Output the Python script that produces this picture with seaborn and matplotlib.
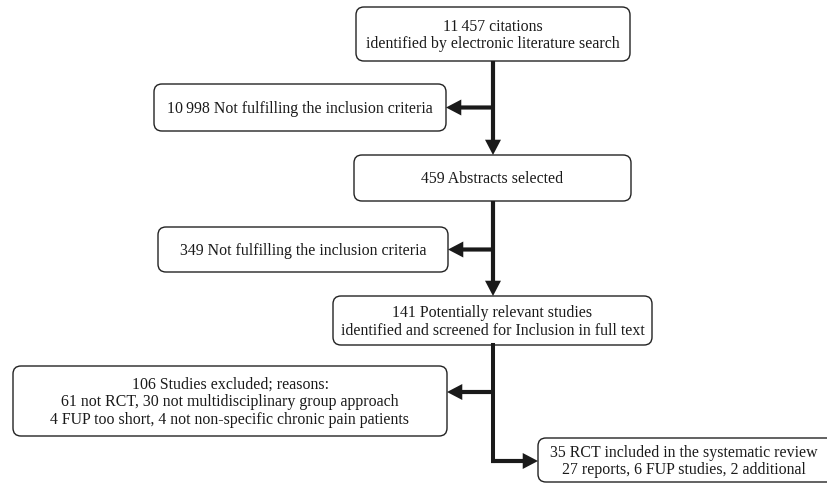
import matplotlib
matplotlib.use("Agg")
import matplotlib.pyplot as plt
import seaborn as sns
from matplotlib.patches import FancyBboxPatch

sns.set_style("white")
plt.rcParams['font.family'] = ['Liberation Serif', 'DejaVu Serif']

# counts at each stage of the review
main_counts = [11457, 459, 141, 35]
excluded_counts = [10998, 349, 106]
rct_reports = 27
rct_fup = 6
rct_additional = 2
excl_not_rct = 61
excl_not_group = 30
excl_fup_short = 4
excl_not_nonspecific = 4


def num(n):
    # thin space as thousands separator, like the original
    return f"{n:,}".replace(",", "\u2009")


main_text = [
    f"{num(main_counts[0])} citations\nidentified by electronic literature search",
    f"{num(main_counts[1])} Abstracts selected",
    f"{num(main_counts[2])} Potentially relevant studies\nidentified and screened for Inclusion in full text",
    f"{main_counts[3]} RCT included in the systematic review\n"
    f"{rct_reports} reports, {rct_fup} FUP studies, {rct_additional} additional",
]
excluded_text = [
    f"{num(excluded_counts[0])} Not fulfilling the inclusion criteria",
    f"{num(excluded_counts[1])} Not fulfilling the inclusion criteria",
    f"{excluded_counts[2]} Studies excluded; reasons:\n"
    f"{excl_not_rct} not RCT, {excl_not_group} not multidisciplinary group approach\n"
    f"{excl_fup_short} FUP too short, {excl_not_nonspecific} not non-specific chronic pain patients",
]

# layout in pixels (x0, y0, x1, y1), y grows downwards
main_boxes = [(356, 8, 630, 62), (354, 156, 631, 202), (333, 297, 652, 346), (538, 439, 845, 483)]
excl_boxes = [(154, 85, 446, 132), (158, 228, 448, 273), (13, 367, 447, 437)]
spine_x = 493

fig = plt.figure(figsize=(8.27, 4.85), dpi=100)
ax = fig.add_axes([0, 0, 1, 1])
ax.set_xlim(0, 827)
ax.set_ylim(485, 0)
ax.axis("off")


def box(b, text, tx=None):
    x0, y0, x1, y1 = b
    ax.add_patch(FancyBboxPatch((x0, y0), x1 - x0, y1 - y0,
                                boxstyle="round,pad=0,rounding_size=8",
                                fc="white", ec="#222222", lw=1.0, zorder=2))
    if tx is None:
        tx = (x0 + x1) / 2
    ax.text(tx, (y0 + y1) / 2 + 0.5, text, ha="center", va="center",
            fontsize=11.4, color="#1a1a1a", linespacing=1.12, zorder=3)


for b, t in zip(main_boxes[:3], main_text[:3]):
    box(b, t)
box(main_boxes[3], main_text[3], tx=684)
for b, t in zip(excl_boxes, excluded_text):
    box(b, t)

ink = "#1a1a1a"
arrow = dict(arrowstyle="simple,head_length=1.1,head_width=1.15,tail_width=0.3",
             lw=0, fc=ink, ec=ink, shrinkA=0, shrinkB=0, mutation_scale=10)


def arr(x0, y0, x1, y1):
    ax.annotate("", xy=(x1, y1), xytext=(x0, y0), arrowprops=arrow, zorder=4)


# main downward flow with side exits
for i in range(2):
    top = main_boxes[i][3]
    bottom = main_boxes[i + 1][1]
    arr(spine_x, top, spine_x, bottom)
    ey = (excl_boxes[i][1] + excl_boxes[i][3]) / 2
    arr(spine_x, ey, excl_boxes[i][2], ey)

# last step: exit to the left, then turn right into the final box
turn_y = (main_boxes[3][1] + main_boxes[3][3]) / 2 + 1
ax.plot([spine_x, spine_x], [main_boxes[2][3], turn_y], color=ink,
        lw=2.9, solid_capstyle="projecting", zorder=4)
ey = (excl_boxes[2][1] + excl_boxes[2][3]) / 2 - 9
arr(spine_x, ey, excl_boxes[2][2], ey)
arr(spine_x - 2, turn_y, main_boxes[3][0], turn_y)

fig.savefig("out.png", dpi=100)
